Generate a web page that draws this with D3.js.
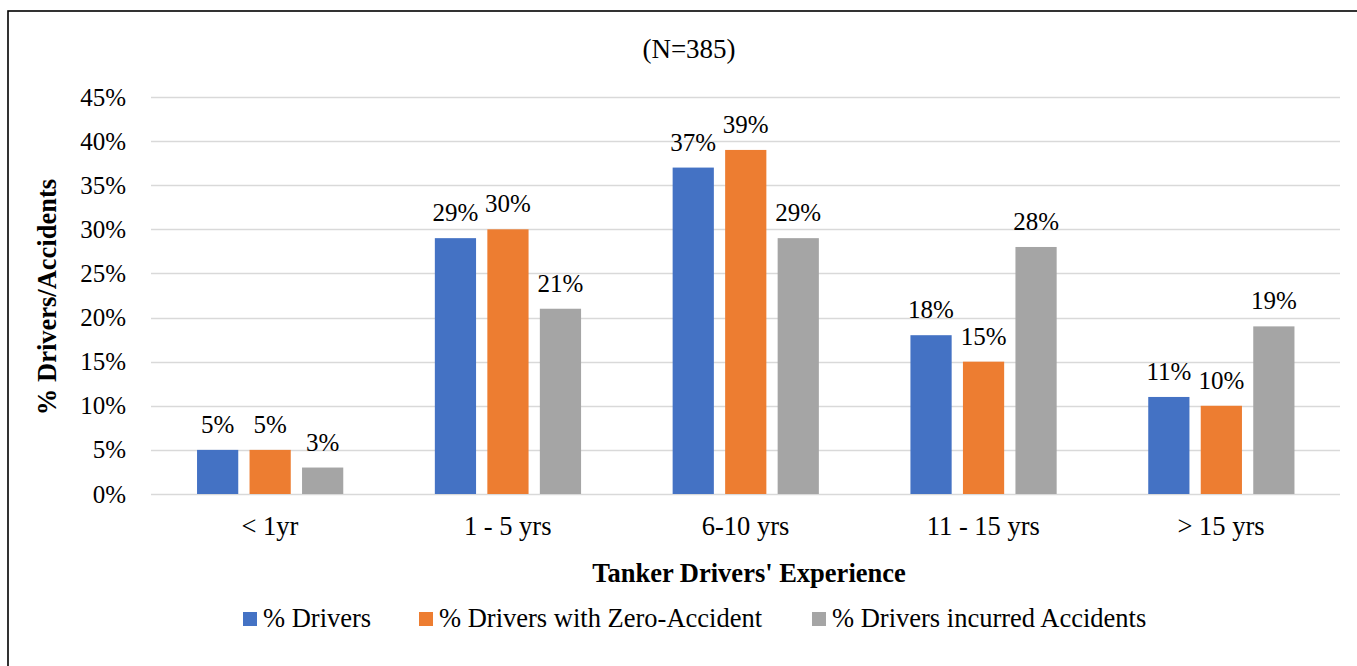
<!DOCTYPE html>
<html><head><meta charset="utf-8">
<script src="https://cdn.jsdelivr.net/npm/d3@7"></script>
<style>body{margin:0;background:#fff}svg{display:block}</style>
</head><body>
<script>
const categories = ["< 1yr", "1 - 5 yrs", "6-10 yrs", "11 - 15 yrs", "> 15 yrs"];
const seriesNames = ["% Drivers", "% Drivers with Zero-Accident", "% Drivers incurred Accidents"];
const drivers = [5, 29, 37, 18, 11];
const zeroAccident = [5, 30, 39, 15, 10];
const incurredAccidents = [3, 21, 29, 28, 19];
const colors = ["#4472C4", "#ED7D31", "#A5A5A5"];
const yTicks = [0, 5, 10, 15, 20, 25, 30, 35, 40, 45];
const title = "(N=385)";
const xTitle = "Tanker Drivers' Experience";
const yTitle = "% Drivers/Accidents";

(function () {
const seriesValues = [drivers, zeroAccident, incurredAccidents];
const W = 1357, H = 666;
const FF = "'Liberation Serif', 'Times New Roman', Tinos, 'DejaVu Serif', serif";
const svg = d3.select("body").append("svg").attr("width", W).attr("height", H)
  .attr("font-family", FF).attr("fill", "#000");

svg.append("rect").attr("x", 8).attr("y", 11).attr("width", W + 20).attr("height", H + 20)
  .attr("fill", "none").attr("stroke", "#000").attr("stroke-width", 1.6);

const pL = 151, pR = 1340, pT = 97, pB = 494;
const x0 = d3.scaleBand().domain(categories).range([pL, pR]).padding(0);
const bw = x0.bandwidth();
const gpad = 46 / 237.6;
const x1 = d3.scaleBand().domain(d3.range(3)).range([bw * gpad, bw * (1 - gpad) + 0.5]).paddingInner(0.215).paddingOuter(0);
const y = d3.scaleLinear().domain([0, 45]).range([pB, pT]);

svg.append("g").selectAll("line").data(yTicks).join("line")
  .attr("x1", pL).attr("x2", pR)
  .attr("y1", d => Math.round(y(d)) + 0.5).attr("y2", d => Math.round(y(d)) + 0.5)
  .attr("stroke", "#D9D9D9").attr("stroke-width", 1.5);

svg.append("g").selectAll("text").data(yTicks).join("text")
  .attr("x", 126).attr("y", d => y(d)).attr("dy", "0.34em")
  .attr("text-anchor", "end").attr("font-size", 25).text(d => d + "%");

const groups = svg.append("g").selectAll("g").data(categories).join("g")
  .attr("transform", d => `translate(${x0(d)},0)`);
groups.each(function(cat, ci) {
  const g = d3.select(this);
  const vals = seriesValues.map((s, si) => ({si, v: s[ci]}));
  g.selectAll("rect").data(vals).join("rect")
    .attr("x", d => x1(d.si)).attr("width", x1.bandwidth())
    .attr("y", d => y(d.v)).attr("height", d => y(0) - y(d.v))
    .attr("fill", d => colors[d.si]);
  g.selectAll("text").data(vals).join("text")
    .attr("x", d => x1(d.si) + x1.bandwidth() / 2).attr("y", d => y(d.v) - 17)
    .attr("text-anchor", "middle").attr("font-size", 25).text(d => d.v + "%");
});

svg.append("g").selectAll("text").data(categories).join("text")
  .attr("x", d => x0(d) + bw / 2).attr("y", 535)
  .attr("text-anchor", "middle").attr("font-size", 26.5).text(d => d);

svg.append("text").attr("x", 689).attr("y", 58).attr("text-anchor", "middle").attr("font-size", 27).text(title);
svg.append("text").attr("x", 749).attr("y", 582).attr("text-anchor", "middle").attr("font-size", 26.5).attr("font-weight", "bold").text(xTitle);
svg.append("text").attr("transform", "translate(56,297) rotate(-90)").attr("text-anchor", "middle").attr("font-size", 26.5).attr("font-weight", "bold").text(yTitle);

const legX = [243, 419, 812];
const leg = svg.append("g").selectAll("g").data(seriesNames).join("g")
  .attr("transform", (d, i) => `translate(${legX[i]},612)`);
leg.append("rect").attr("width", 14).attr("height", 14).attr("fill", (d, i) => colors[i]);
leg.append("text").attr("x", 20).attr("y", 15).attr("font-size", 26.5).text(d => d);
})();
</script>
</body></html>
